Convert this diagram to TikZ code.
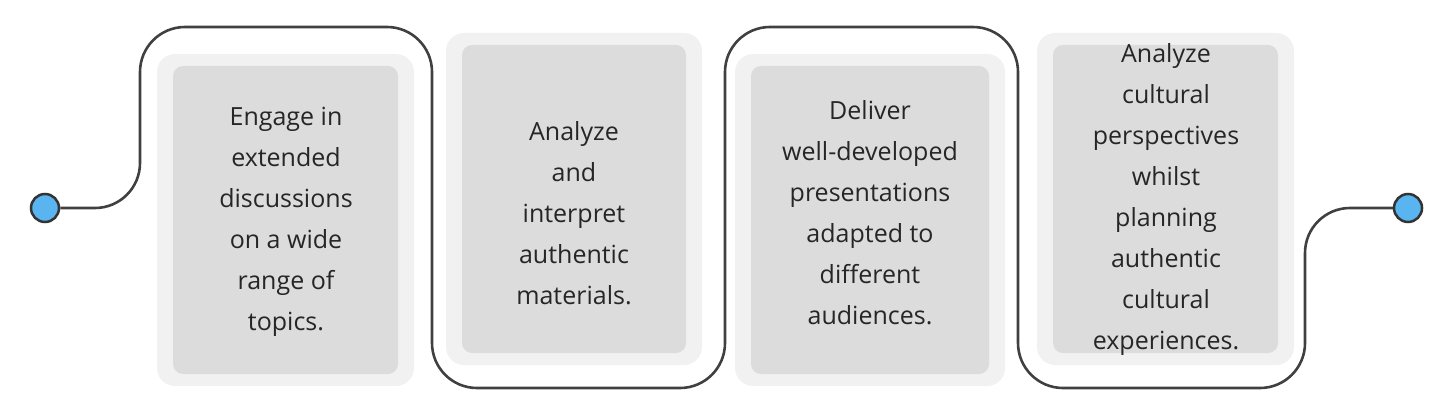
\documentclass[tikz,border=0pt]{standalone}
\usepackage{fontspec}
\setmainfont{Open Sans}
\begin{document}
\begin{tikzpicture}[x=1pt,y=-1pt,
  card/.style={fill=boxgray,rounded corners=10pt,draw=none},
  halo/.style={fill=halogray,rounded corners=18pt,draw=none},
  txt/.style={align=center,font=\fontsize{25}{41}\selectfont,text=black!85},
  dot/.style={circle,minimum size=28pt,inner sep=0pt,fill=dotblue,draw=black!80,line width=2.5pt},
  track/.style={line width=2.6pt,draw=black!75,rounded corners=45pt}]
\definecolor{boxgray}{HTML}{DCDCDC}
\definecolor{halogray}{HTML}{F1F1F1}
\definecolor{dotblue}{HTML}{5AB4F0}
\useasboundingbox (0,0) rectangle (1450,417);
% halos and cards
\foreach \a/\b/\c/\d in {173/66/398/374,462/45/686/353,751/66/989/374,1053/45/1278/353}{
  \fill[halo] (\a-16,\b-12) rectangle (\c+16,\d+12);
  \fill[card] (\a,\b) rectangle (\c,\d);
}
\node[dot] (s) at (45,208) {};
\node[dot] (e) at (1408,208) {};
\draw[track] (s.east) -- (140,208) -- (140,27) -- (432,27) -- (432,388) -- (725,388) -- (725,27) -- (1018,27) -- (1018,388) -- (1305,388) -- (1305,208) -- (e.west);
\node[txt] (t1) at (286,222) {Engage in\\extended\\discussions\\on a wide\\range of\\topics.};
\node[txt] (t2) at (574,213) {Analyze\\and\\interpret\\authentic\\materials.};
\node[txt] (t3) at (870,213) {Deliver\\well-developed\\presentations\\adapted to\\different\\audiences.};
\node[txt] (t4) at (1166,200) {Analyze\\cultural\\perspectives\\whilst\\planning\\authentic\\cultural\\experiences.};
\end{tikzpicture}
\end{document}
